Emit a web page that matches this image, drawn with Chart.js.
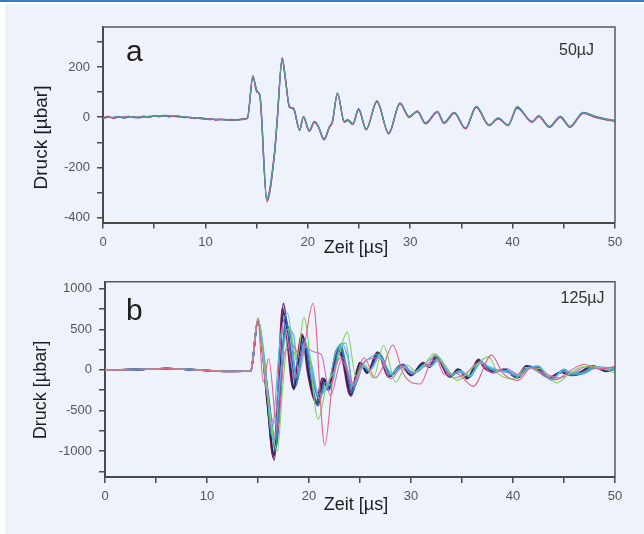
<!DOCTYPE html>
<html>
<head>
<meta charset="utf-8">
<script src="https://cdn.jsdelivr.net/npm/chart.js@4.4.1/dist/chart.umd.min.js"></script>
<style>
  html,body{margin:0;padding:0;background:#ffffff;}
  #wrap{position:relative;width:644px;height:534px;overflow:hidden;font-family:"Liberation Sans",Arial,sans-serif;}
  .bg{position:absolute;left:5px;top:4px;right:0;bottom:0;background:#eef2fa;}
  .topline{position:absolute;left:0;top:0;width:644px;height:2px;background:#3b7bc4;}
  canvas{position:absolute;left:0;}
  .t{position:absolute;white-space:nowrap;color:#1e1e1e;}
</style>
</head>
<body>
<div id="wrap">
  <div class="bg"></div>
  <div class="topline"></div>
  <canvas id="ca" width="644" height="267" style="top:0;width:644px;height:267px"></canvas>
  <canvas id="cb" width="644" height="267" style="top:267px;width:644px;height:267px"></canvas>

  <div class="t" style="left:126px;top:36px;font-size:30px;line-height:30px;">a</div>
  <div class="t" style="right:50px;top:41.5px;font-size:16px;line-height:16px;color:#333;">50µJ</div>
  <div class="t" style="left:316px;top:238px;width:80px;text-align:center;font-size:18px;line-height:18px;">Zeit [µs]</div>
  <div class="t" style="left:-20px;top:128px;width:120px;height:19px;text-align:center;font-size:19px;line-height:19px;transform:rotate(-90deg);">Druck [µbar]</div>

  <div class="t" style="left:126px;top:294.5px;font-size:30px;line-height:30px;">b</div>
  <div class="t" style="right:39.5px;top:289.5px;font-size:16px;line-height:16px;color:#333;">125µJ</div>
  <div class="t" style="left:316px;top:495px;width:80px;text-align:center;font-size:18px;line-height:18px;">Zeit [µs]</div>
  <div class="t" style="left:-20px;top:381px;width:120px;height:18px;text-align:center;font-size:18px;line-height:18px;transform:rotate(-90deg);">Druck [µbar]</div>
</div>
<script>
// ---------- Panel a (50 µJ): time axis and traces ----------
const tA = [0,0.5,1,1.5,2,2.5,3,3.5,4,4.5,5,5.5,6,6.5,7,7.5,8,8.5,9,9.5,10,10.5,11,11.5,12,12.5,13,13.5,
  14.1,14.64,15.0,15.2,15.35,16.0,16.75,17.0,17.5,17.8,
  18.2,18.6,19.2,19.57,20.15,20.64,21.0,21.6,22.1,22.4,
  22.9,23.56,23.9,24.4,24.96,25.7,26.75,27.9,29.0,29.9,
  30.7,31.5,32.65,33.3,34.3,35.4,36.45,37.7,38.6,39.56,
  40.45,41.9,42.55,43.6,44.66,45.6,46.9,48.07,49.0,50];
const aPurple = [-6,2,-3,1,-2,3,0,-1,3,1,5,3,7,4,6,2,1,-2,-4,-3,-8,-7,-10,-8,-11,-9,-12,-8,
  -4,164,105,97,78,-332,-145,-20,235,160,
  41,36,-52,1,-55,-19,-35,-89,-40,-19,
  95,-19,-12,-28,32,-49,64,-65,55,1,
  24,-25,21,-23,17,-45,41,-32,-5,-32,
  39,-19,4,-39,1,-39,17,1,-8,-15];
const aBlue = [-4,0,-1,3,-3,1,2,-2,1,3,4,5,6,2,5,4,-1,0,-5,-2,-6,-9,-8,-10,-9,-11,-10,-9,
  -3,158,110,95,80,-322,-140,-15,230,155,
  45,33,-50,3,-53,-17,-33,-86,-38,-17,
  92,-17,-10,-26,34,-47,62,-63,57,3,
  22,-23,23,-21,19,-43,43,-30,-3,-30,
  37,-17,6,-37,3,-37,19,3,-6,-13];
const aRed = [-2,4,-5,0,1,4,-2,1,5,-1,6,2,8,6,3,1,3,-3,-2,-6,-9,-5,-12,-7,-10,-12,-11,-7,
  -6,166,100,99,76,-338,-150,-25,238,162,
  38,38,-54,0,-57,-21,-37,-91,-42,-21,
  97,-21,-14,-30,30,-51,66,-67,53,-1,
  26,-27,19,-25,15,-47,39,-34,-7,-34,
  41,-21,2,-41,-1,-41,15,-1,-10,-17];
const aGreen = [-8,1,-2,2,0,2,1,0,2,2,3,4,5,5,7,3,2,-1,-3,-4,-7,-8,-9,-9,-12,-10,-12,-10,
  -5,162,108,96,79,-328,-142,-18,232,158,
  43,35,-51,2,-54,-18,-34,-88,-39,-18,
  96,-18,-11,-27,35,-48,60,-64,56,2,
  25,-24,22,-22,18,-44,44,-31,-4,-31,
  44,-18,5,-38,2,-38,18,2,-7,-14];

// ---------- Panel b (125 µJ): shared pre-trigger baseline + traces ----------
const tB0 = [0,1,2,3,4,5,6,7,8,9,10,11,12,13,14,14.3];
const vB0 = [0,-3,2,4,8,12,16,12,6,0,-8,-14,-18,-18,-16,-10];

const b1T = [15.0,15.5,15.9,16.6,17.0,17.5,18.0,18.5,19.4,20.0,20.8,21.4,21.9,22.9,23.4,24.1,25.1,25.75,26.8,27.9,29.1,30.1,31.25,31.8,32.5,33.85,34.7,35.6,36.7,37.3,38.25,39.2,40.4,41.35,42.3,43.6,44.8,45.5,46.6,47.9,49.2,50];
const b1V = [620,150,-400,-1110,-350,820,320,-243,425,-80,-425,-120,-250,243,120,-324,80,-29,214,-85,60,-61,80,40,160,-81,0,-100,120,30,-20,0,-93,40,28,-100,-20,-60,-41,40,-12,20];
const b2T = [15.0,15.5,15.9,16.5,16.9,17.4,17.9,18.4,19.3,19.9,20.7,21.3,21.8,22.8,23.3,24.0,25.0,25.7,26.7,27.8,29.0,30.0,31.2,31.8,32.4,33.8,34.6,35.5,36.6,37.2,38.2,39.1,40.3,41.3,42.2,43.5,44.7,45.4,46.5,47.8,49.1,50];
const b2V = [620,180,-350,-1080,-400,760,300,-220,440,-60,-400,-100,-230,260,110,-310,90,-40,220,-90,55,-70,90,30,170,-90,10,-110,130,20,-30,10,-90,50,20,-95,-30,-50,-30,50,-20,10];
const b3T = [15.0,15.6,16.0,16.8,17.2,17.7,18.2,18.7,19.5,20.1,20.9,21.5,22.0,23.0,23.5,24.2,25.2,25.8,26.9,28.0,29.2,30.2,31.3,31.9,32.6,33.9,34.8,35.7,36.8,37.4,38.3,39.3,40.5,41.4,42.4,43.7,44.9,45.6,46.7,48.0,49.3,50];
const b3V = [615,120,-300,-950,-300,650,250,-200,380,-50,-440,-150,-240,300,100,-280,70,-20,200,-70,70,-50,70,50,150,-70,-10,-90,110,40,-10,-10,-100,30,30,-110,-10,-70,-50,30,-5,30];
const b4T = [15.0,15.6,16.1,16.7,17.1,17.8,18.3,18.8,19.6,20.2,21.0,21.6,22.1,23.1,23.6,24.3,25.2,25.9,27.0,28.0,29.2,30.2,31.3,31.9,32.6,34.0,34.8,35.8,36.8,37.4,38.4,39.3,40.5,41.5,42.4,43.7,45.0,45.6,46.8,48.0,49.3,50];
const b4V = [620,100,-450,-1000,-250,560,350,-150,350,0,-380,-160,-200,320,80,-250,60,-10,180,-60,50,-40,60,40,140,-60,-20,-80,100,40,-10,-20,-80,30,40,-120,0,-60,-40,30,0,0];
const b5T = [15.0,15.5,15.9,16.6,17.0,17.5,18.0,18.5,19.4,20.0,20.8,21.5,21.9,22.9,23.4,24.1,25.0,25.7,26.8,27.9,29.0,30.0,31.2,31.8,32.5,33.8,34.7,35.6,36.7,37.3,38.2,39.2,40.4,41.3,42.3,43.6,44.8,45.5,46.6,47.9,49.2,50];
const b5V = [618,160,-380,-1050,-320,700,330,-230,410,-70,-410,-110,-240,250,120,-300,85,-35,205,-80,60,-60,85,35,155,-85,5,-95,115,25,-25,5,-95,45,25,-100,-25,-55,-35,45,-10,15];
const b6T = [15.0,15.6,16.1,16.6,17.1,17.9,18.5,19.0,19.7,20.3,21.0,21.7,22.3,23.2,23.8,24.3,25.3,26.0,26.9,28.1,29.3,30.3,31.4,32.0,32.7,34.0,34.9,35.8,36.9,37.5,38.5,39.4,40.6,41.5,42.5,43.8,45.0,45.7,46.8,48.1,49.4,50];
const b6V = [615,50,-500,-900,-200,500,420,-50,300,50,-350,-200,-150,330,150,-200,40,0,170,-40,40,-30,50,50,120,-50,-30,-70,90,50,0,-30,-70,20,50,-130,10,-40,-50,20,10,-10];
const b7T = [15.0,15.5,16.05,16.9,17.6,18.4,19.2,20.4,21.55,22.4,23.3,24.3,25.4,26.5,27.3,28.2,29.3,30.9,32.3,33.3,34.4,36.1,37.9,39.0,40.5,41.8,43.0,44.2,45.5,47.0,48.3,50];
const b7V = [620,-150,137,-750,200,300,150,820,-931,-50,150,-160,150,-100,50,307,-60,-175,180,-60,-40,-203,182,-40,-130,30,-60,-120,-20,70,10,40];
const b8T = [15.0,15.8,16.9,17.4,18.1,18.8,19.5,20.9,21.7,22.6,23.75,24.6,25.5,26.3,27.3,28.5,29.6,30.6,32.3,33.5,34.5,36.2,37.6,38.6,40.2,41.2,42.8,44.3,45.5,47.0,48.5,50];
const b8V = [640,-150,-1000,-250,520,100,647,-607,-200,20,465,-80,60,-100,300,-150,60,-30,200,30,-130,40,160,-50,-110,30,10,-160,-50,40,30,-40];
const b9T = [15.0,15.8,16.6,17.5,18.6,19.6,20.5,21.2,22.1,23.2,24.4,25.5,26.9,28.0,29.2,30.3,31.5,32.6,34.0,35.2,36.7,38.0,39.3,40.6,41.8,43.0,44.5,46.0,47.5,49.0,50];
const b9V = [610,-250,-650,600,-100,280,220,190,-320,120,-220,110,150,-110,40,-40,60,130,-100,-60,90,-40,20,-60,20,-40,-100,-30,50,20,40];
const b10T = [15.0,15.7,16.3,17.2,17.9,18.8,19.6,20.9,21.8,22.8,23.6,24.3,25.3,26.8,27.9,29.0,30.1,31.3,32.5,33.9,34.8,35.7,36.8,38.3,39.5,40.5,41.5,43.7,45.0,46.5,48.0,50];
const b10V = [615,80,-800,400,700,-100,350,-300,-220,280,330,-180,70,190,-60,50,-50,70,170,-60,-10,-80,100,-20,-10,-70,30,-110,-20,-40,40,10];

// ---------- tick settings ----------
const xMajor = 10, xMinor = 5;
const aYMajor = 200, aYMinor = 100;
const bYMajor = 500, bYMinor = 250;

function pts(ts, vs){ return ts.map((t,i)=>({x:t, y:vs[i]})); }
function ds(data, color, w){
  return {data, borderColor:color, borderWidth:w, pointRadius:0, fill:false,
          cubicInterpolationMode:'monotone'};
}

const frame = {
  id:'frame',
  afterDatasetsDraw(chart){
    const {ctx, chartArea:a} = chart;
    ctx.save();
    ctx.strokeStyle = '#5a5a5a';
    ctx.lineWidth = 1.5;
    ctx.beginPath();
    ctx.moveTo(a.left, a.top); ctx.lineTo(a.right, a.top); ctx.lineTo(a.right, a.bottom);
    ctx.stroke();
    ctx.restore();
  }
};

const tickFont = {family:'"Liberation Sans", Arial, sans-serif', size:13};

function makeScales(yMin, yMax, yMinor, yMajor, yWidth, xHeight){
  return {
    x:{type:'linear', min:0, max:50,
       ticks:{stepSize:xMinor, autoSkip:false, maxRotation:0, color:'#555', font:tickFont, padding:6,
              callback:v => (v % xMajor === 0 ? String(v) : '')},
       grid:{drawOnChartArea:false, tickLength:6, color:'#4a4a4a', lineWidth:1.5},
       border:{color:'#4a4a4a', width:2},
       afterFit:s => { s.height = xHeight; }},
    y:{type:'linear', min:yMin, max:yMax,
       ticks:{stepSize:yMinor, includeBounds:false, autoSkip:false, color:'#555', font:tickFont, padding:7,
              callback:v => (v % yMajor === 0 ? String(v) : '')},
       grid:{drawOnChartArea:false, tickLength:6, color:'#4a4a4a', lineWidth:1.5},
       border:{color:'#4a4a4a', width:2},
       afterFit:s => { s.width = yWidth; }}
  };
}

new Chart(document.getElementById('ca'), {
  type:'line',
  data:{datasets:[
    ds(pts(tA, aGreen), '#52a88e', 1.0),
    ds(pts(tA, aRed), '#c2467c', 1.1),
    ds(pts(tA, aBlue), '#4a68c8', 1.4),
    ds(pts(tA, aPurple), '#5e52a2', 1.4)
  ]},
  options:{
    responsive:false, animation:false, events:[],
    layout:{padding:{left:0, right:29, top:27, bottom:0}},
    plugins:{legend:{display:false}, tooltip:{enabled:false}},
    scales:makeScales(-420, 360, aYMinor, aYMajor, 103, 44.5)
  },
  plugins:[frame]
});

new Chart(document.getElementById('cb'), {
  type:'line',
  data:{datasets:[
    ds(pts(tB0.concat(b7T), vB0.concat(b7V)), '#e0628c', 1.1),
    ds(pts(tB0.concat(b8T), vB0.concat(b8V)), '#86cf5e', 1.1),
    ds(pts(tB0.concat(b9T), vB0.concat(b9V)), '#c070c8', 1.1),
    ds(pts(tB0.concat(b10T), vB0.concat(b10V)), '#45bfd6', 1.1),
    ds(pts(tB0.concat(b6T), vB0.concat(b6V)), '#6aaee6', 1.3),
    ds(pts(tB0.concat(b4T), vB0.concat(b4V)), '#1f8f9f', 1.5),
    ds(pts(tB0.concat(b3T), vB0.concat(b3V)), '#3552c8', 1.6),
    ds(pts(tB0.concat(b5T), vB0.concat(b5V)), '#1c2555', 1.6),
    ds(pts(tB0.concat(b2T), vB0.concat(b2V)), '#8a1840', 1.7),
    ds(pts(tB0.concat(b1T), vB0.concat(b1V)), '#5a3a98', 1.7)
  ]},
  options:{
    responsive:false, animation:false, events:[],
    layout:{padding:{left:0, right:29, top:12, bottom:0}},
    plugins:{legend:{display:false}, tooltip:{enabled:false}},
    scales:makeScales(-1320, 1085, bYMinor, bYMajor, 105, 57)
  },
  plugins:[frame]
});
</script>
</body>
</html>
